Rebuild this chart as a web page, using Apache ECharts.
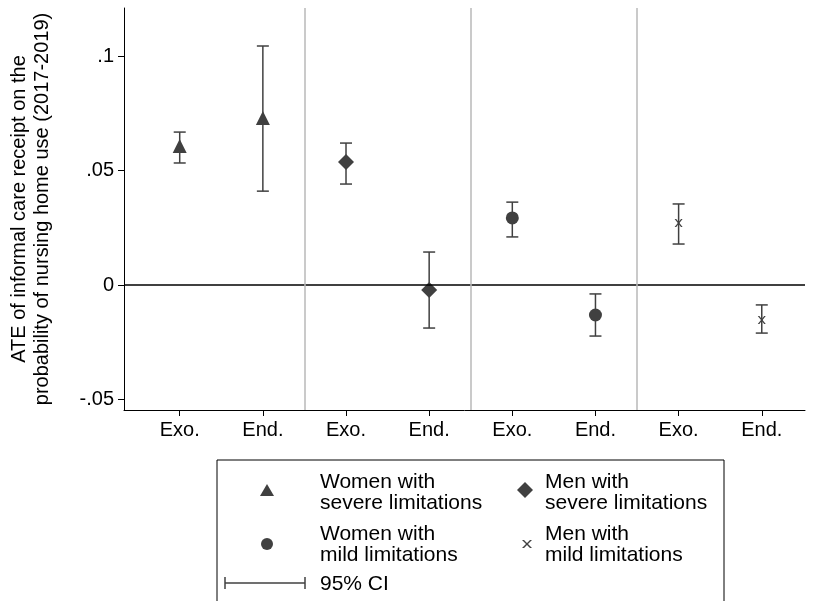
<!DOCTYPE html>
<html><head><meta charset="utf-8">
<script src="https://cdn.jsdelivr.net/npm/echarts@6/dist/echarts.min.js"></script>
<style>html,body{margin:0;background:#fff}#c{width:828px;height:601px}</style>
</head><body><div id="c"></div>
<script>
const categories = ['Exo.','End.','Exo.','End.','Exo.','End.','Exo.','End.'];
const estimates = [0.0607, 0.0729, 0.0537, -0.0022, 0.0293, -0.0131, 0.0271, -0.0153];
const ciLow  = [0.0533, 0.041, 0.0441, -0.0188, 0.021, -0.0223, 0.0179, -0.021];
const ciHigh = [0.0668, 0.1044, 0.062, 0.0144, 0.0362, -0.0039, 0.0354, -0.0087];
const symbols = ['triangle','triangle','diamond','diamond','circle','circle','x','x'];
const yTicks = [-0.05, 0, 0.05, 0.1];
const yTickLabels = ['-.05','0','.05','.1'];
const separators = [2.5, 4.5, 6.5];
const col = '#404040';
const FONT = 'Arial, Liberation Sans';
const xPath = 'path://M0,0L2,0L5,3L8,0L10,0L6,4L10,8L8,8L5,5L2,8L0,8L4,4Z';
function sym(s){return s==='x'?xPath:s;}
function symSize(s){return s==='x'?8:s==='triangle'?14:s==='diamond'?16:13;}
const xPts=[[0,0],[2,0],[5,3],[8,0],[10,0],[6,4],[10,8],[8,8],[5,5],[2,8],[0,8],[4,4]];
const chart = echarts.init(document.getElementById('c'));
chart.setOption({
  animation:false,
  grid:{left:124,right:23,top:8,bottom:191,containLabel:false,outerBoundsMode:'none'},
  xAxis:{type:'value',min:0.33,max:8.52,
    axisLine:{show:true,onZero:false,lineStyle:{color:'#000'}},
    splitLine:{show:false},
    axisTick:{show:true,customValues:[1,2,3,4,5,6,7,8],length:6,lineStyle:{color:'#000'}},
    axisLabel:{customValues:[1,2,3,4,5,6,7,8],formatter:v=>categories[Math.round(v)-1],color:'#000',fontSize:20,fontFamily:FONT,margin:10}},
  yAxis:{type:'value',min:-0.0546,max:0.121,
    axisLine:{show:true,lineStyle:{color:'#000'}},
    splitLine:{show:false},
    axisTick:{show:true,customValues:yTicks,length:6,lineStyle:{color:'#000'}},
    axisLabel:{customValues:yTicks,formatter:v=>yTickLabels[yTicks.findIndex(t=>Math.abs(t-v)<1e-9)],color:'#000',fontSize:20,fontFamily:FONT,margin:10},
    name:'ATE of informal care receipt on the\nprobability of nursing home use (2017-2019)',
    nameLocation:'middle',nameGap:70,nameTextStyle:{color:'#000',fontSize:20,fontFamily:FONT,lineHeight:23}},
  series:[
    {type:'line',data:[[0.33,0],[8.52,0]],symbol:'none',lineStyle:{color:'#000',width:1.5},silent:true,
     markLine:{silent:true,symbol:'none',label:{show:false},lineStyle:{color:'#b8b8b8',width:1.5,type:'solid'},data:separators.map(s=>({xAxis:s}))}},
    {type:'custom',data:estimates.map((e,i)=>[i+1,ciLow[i],ciHigh[i]]),
     renderItem:(p,api)=>{const a=api.coord([api.value(0),api.value(1)]),b=api.coord([api.value(0),api.value(2)]);
       const st={stroke:col,lineWidth:1.5};
       return {type:'group',children:[
        {type:'line',shape:{x1:a[0],y1:a[1],x2:b[0],y2:b[1]},style:st},
        {type:'line',shape:{x1:a[0]-6,y1:a[1],x2:a[0]+6,y2:a[1]},style:st},
        {type:'line',shape:{x1:b[0]-6,y1:b[1],x2:b[0]+6,y2:b[1]},style:st}]};}},
    {type:'scatter',data:estimates.map((e,i)=>({value:[i+1,e],symbol:sym(symbols[i]),symbolSize:symSize(symbols[i])})),itemStyle:{color:col,opacity:1}}
  ],
  graphic:[
    {type:'rect',shape:{x:217,y:460,width:507,height:150},style:{fill:'#fff',stroke:'#000',lineWidth:1}},
    {type:'polygon',shape:{points:[[260,496],[267,484],[274,496]]},style:{fill:col}},
    {type:'polygon',shape:{points:[[525,482],[533,490],[525,498],[517,490]]},style:{fill:col}},
    {type:'circle',shape:{cx:267,cy:544,r:6},style:{fill:col}},
    {type:'polygon',shape:{points:xPts.map(p=>[p[0]+522,p[1]+540])},style:{fill:col}},
    {type:'text',x:320,y:493,style:{text:'Women with\nsevere limitations',fill:'#000',font:'21px '+FONT,lineHeight:21,verticalAlign:'middle'}},
    {type:'text',x:545,y:493,style:{text:'Men with\nsevere limitations',fill:'#000',font:'21px '+FONT,lineHeight:21,verticalAlign:'middle'}},
    {type:'text',x:320,y:545,style:{text:'Women with\nmild limitations',fill:'#000',font:'21px '+FONT,lineHeight:21,verticalAlign:'middle'}},
    {type:'text',x:545,y:545,style:{text:'Men with\nmild limitations',fill:'#000',font:'21px '+FONT,lineHeight:21,verticalAlign:'middle'}},
    {type:'line',shape:{x1:225,y1:583,x2:305,y2:583},style:{stroke:col,lineWidth:1.5}},
    {type:'line',shape:{x1:225,y1:577,x2:225,y2:589},style:{stroke:col,lineWidth:1.5}},
    {type:'line',shape:{x1:305,y1:577,x2:305,y2:589},style:{stroke:col,lineWidth:1.5}},
    {type:'text',x:320,y:584,style:{text:'95% CI',fill:'#000',font:'21px '+FONT,verticalAlign:'middle'}}
  ]
});
</script></body></html>
